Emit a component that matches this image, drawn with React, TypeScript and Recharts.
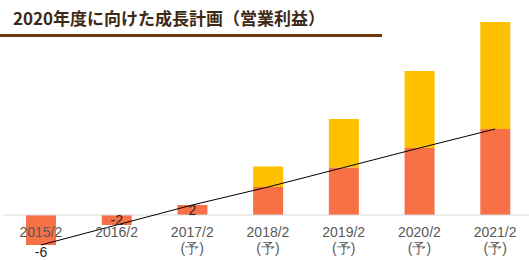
import { Bar, ComposedChart, LabelList, Line, ReferenceLine, XAxis, YAxis } from 'recharts';

const categories = ['2015/2', '2016/2', '2017/2', '2018/2', '2019/2', '2020/2', '2021/2'];
const subLabels = ['', '', '(予)', '(予)', '(予)', '(予)', '(予)'];
const operatingProfit = [-6, -2, 2, 5.6, 9.5, 13.4, 17.2];
const upside = [0, 0, 0, 4.1, 9.7, 15.4, 21.4];
const barLabels = ['-6', '-2', '2'];

const data = categories.map((name, i) => ({
  name,
  sub: subLabels[i],
  profit: operatingProfit[i],
  upside: upside[i],
}));

const FONT = '"Liberation Sans", Arial, sans-serif';

function CategoryTick(props: any) {
  const { x, y, payload } = props;
  const sub = subLabels[categories.indexOf(payload.value)];
  return (
    <g>
      <text x={x} y={y - 18} textAnchor="middle" fontSize={14} fill="#595959" fontFamily={FONT}>
        {payload.value}
      </text>
      {sub ? (
        <text x={x} y={y - 2} textAnchor="middle" fontSize={14} fill="#595959" fontFamily={FONT}>
          {sub}
        </text>
      ) : null}
    </g>
  );
}

function ValueLabel({ x, y, width, height, index }: any) {
  const text = barLabels[index];
  if (!text) return null;
  const top = Math.min(y, y + height);
  const bottom = Math.max(y, y + height);
  // first bar gets its label under the bar, the small ones in the middle
  const cy = index === 0 ? bottom + 7 : (top + bottom) / 2;
  return (
    <text
      x={x + width / 2}
      y={cy}
      dy={5}
      textAnchor="middle"
      fontSize={14}
      fill="#262626"
      fontFamily={FONT}
    >
      {text}
    </text>
  );
}

export default function App() {
  return (
    <div
      style={{
        position: 'absolute',
        left: 0,
        top: 0,
        width: 529,
        height: 260,
        overflow: 'hidden',
        background: '#fff',
      }}
    >
      <div
        style={{
          position: 'absolute',
          left: 13,
          top: 7,
          fontFamily: '"Noto Sans CJK JP", "Noto Sans", sans-serif',
          fontWeight: 700,
          fontSize: 17,
          lineHeight: '22px',
          color: '#3d2914',
          whiteSpace: 'nowrap',
        }}
      >
        2020年度に向けた成長計画（営業利益）
      </div>
      <div
        style={{
          position: 'absolute',
          left: 0,
          top: 34,
          width: 382,
          height: 3,
          background: '#6b3a10',
        }}
      />
      <div style={{ position: 'absolute', left: 0, top: 0 }}>
        <ComposedChart
          width={540}
          height={280}
          data={data}
          margin={{ top: 15, right: 7, left: 3, bottom: 0 }}
          barSize={30}
        >
          <XAxis
            dataKey="name"
            height={25}
            axisLine={false}
            tickLine={false}
            tickSize={0}
            tickMargin={0}
            interval={0}
            tick={CategoryTick}
          />
          <YAxis hide domain={[-8, 40]} allowDataOverflow />
          <ReferenceLine y={0} stroke="#d9d9d9" strokeWidth={1} />
          <Bar dataKey="profit" stackId="a" fill="#f87046" isAnimationActive={false}>
            <LabelList dataKey="profit" content={<ValueLabel />} />
          </Bar>
          <Bar dataKey="upside" stackId="a" fill="#ffc000" isAnimationActive={false} />
          <Line
            type="linear"
            dataKey="profit"
            stroke="#000"
            strokeWidth={1}
            dot={false}
            isAnimationActive={false}
          />
        </ComposedChart>
      </div>
    </div>
  );
}
